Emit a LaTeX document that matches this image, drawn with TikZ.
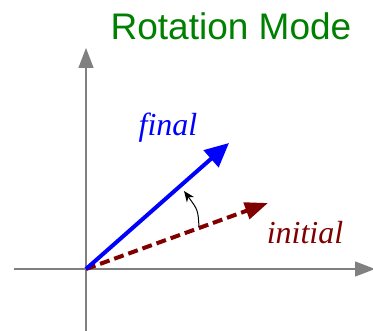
\documentclass[tikz,border=0pt]{standalone}
\usepackage{fontspec}
\setmainfont{Liberation Serif}
\newfontfamily\titlefont{Liberation Sans}
\usetikzlibrary{arrows.meta}
\definecolor{titlegreen}{RGB}{0,128,0}
\definecolor{initred}{RGB}{128,0,0}
\definecolor{axisgray}{RGB}{128,128,128}
\begin{document}
\begin{tikzpicture}[x=1pt,y=-1pt,
  axisline/.style={draw=axisgray,line width=1.4pt,-{Triangle[length=20pt,width=15pt]}},
  finalvec/.style={draw=blue,line width=4pt,-{Triangle[length=24pt,width=22pt]}},
  initvec/.style={draw=initred,line width=4pt,dash pattern=on 10pt off 5pt,-{Triangle[length=23pt,width=17pt]}},
  rotarrow/.style={draw=black,line width=1pt,-{Stealth[length=11pt,width=9pt]}},
  lbl/.style={inner sep=0pt,font=\fontsize{32}{36}\selectfont\itshape}
]
\useasboundingbox (0,0) rectangle (373,331);
\coordinate (O) at (86,269);
\coordinate (xl) at (14,269);
\coordinate (xr) at (375,269);
\coordinate (yb) at (86,331);
\coordinate (yt) at (86,48);
\coordinate (ftip) at (229,143);
\coordinate (itip) at (268,203);
\coordinate (rs) at (199,227);
\coordinate (re) at (184,191);
\draw[axisline] (xl) -- (xr);
\draw[axisline] (yb) -- (yt);
\draw[initvec] (O) -- (itip);
\draw[finalvec] (O) -- (ftip);
\draw[rotarrow] (rs) .. controls (198,210) .. (re);
\node[lbl,text=blue] (final) at (168,128) {final};
\node[lbl,text=initred] (initial) at (305,233) {initial};
\node[inner sep=0pt,text=titlegreen,font=\titlefont\fontsize{37}{40}\selectfont] (title) at (231,26) {Rotation Mode};
\end{tikzpicture}
\end{document}
